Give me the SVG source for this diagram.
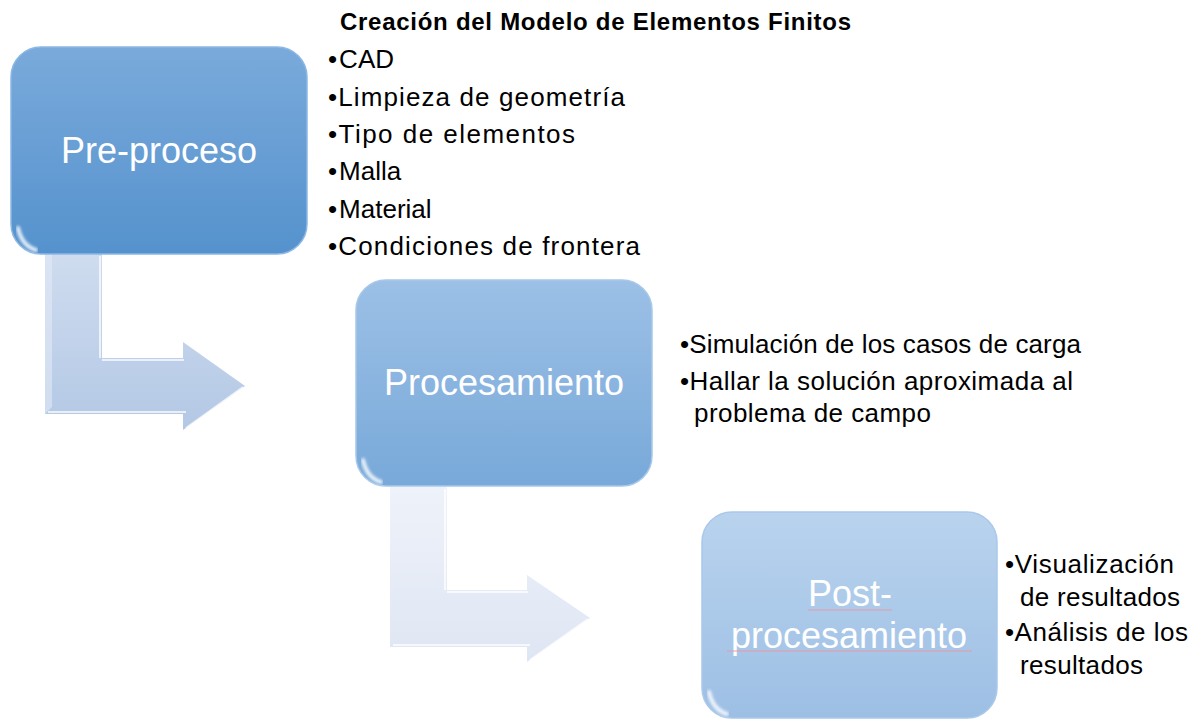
<svg xmlns="http://www.w3.org/2000/svg" width="1194" height="719" viewBox="0 0 1194 719">
<defs>
<linearGradient id="g1" x1="0" y1="0" x2="0" y2="1"><stop offset="0" stop-color="#7aaadb"/><stop offset="1" stop-color="#5592cd"/></linearGradient>
<linearGradient id="g2" x1="0" y1="0" x2="0" y2="1"><stop offset="0" stop-color="#9cc0e6"/><stop offset="1" stop-color="#78a9d9"/></linearGradient>
<linearGradient id="g3" x1="0" y1="0" x2="0" y2="1"><stop offset="0" stop-color="#b9d3ee"/><stop offset="1" stop-color="#9dbfe4"/></linearGradient>
<linearGradient id="a1" x1="0" y1="0" x2="0" y2="1"><stop offset="0" stop-color="#cfdcef"/><stop offset="1" stop-color="#b3c8e5"/></linearGradient>
<linearGradient id="a2" x1="0" y1="0" x2="0" y2="1"><stop offset="0" stop-color="#eef2fa"/><stop offset="1" stop-color="#dfe6f3"/></linearGradient>
<filter id="blur" x="-10%" y="-50%" width="120%" height="200%"><feGaussianBlur stdDeviation="1.5"/></filter>
</defs>
<style>
.t{font-family:"Liberation Sans",Arial,sans-serif;fill:#000;font-size:26px}
.b{font-weight:bold;font-size:24px}
.w{font-family:"Liberation Sans",Arial,sans-serif;fill:#fff;font-size:36px;text-anchor:middle}
.hl{fill:none;stroke:#fff;stroke-width:4;stroke-linecap:round;filter:url(#blur);opacity:.85}
.bev{fill:none;stroke:#fff;stroke-width:2;opacity:.7}
.sq{fill:none;stroke:#e79aa5;stroke-width:1}
</style>
<g id="connectors">
<g id="arrow1">
<path d="M45,254 L102,254 L102,358 L183,358 L183,342 L245,386 L183,430 L183,414 L45,414 Z" fill="url(#a1)"/>
<path class="bev" d="M48,412 L186,412 M186,428 L243,387 M100,256 L100,358 M102,360 L184,360"/>
<path d="M45,254 L45,414 L52,407 L52,254 Z" fill="#e2eaf6" opacity=".6"/>
</g>
<g id="arrow2">
<path d="M390,487 L447,487 L447,590 L527,590 L527,575 L590,618 L527,662 L527,647 L390,647 Z" fill="url(#a2)"/>
<path class="bev" d="M393,645 L530,645 M530,660 L588,619 M445,489 L445,590 M447,592 L528,592"/>
</g>
</g>
<g id="pre">
<rect x="11" y="47" width="296" height="207" rx="30" fill="url(#g1)" stroke="#8cb8e4" stroke-width="1.5"/>
<path class="hl" d="M42,55 L278,55"/>
<path class="hl" d="M18,228 Q22,246 36,250" stroke-width="5"/>
<text class="w" x="159" y="163">Pre-proceso</text>
</g>
<g id="proc">
<rect x="356" y="280" width="296" height="206" rx="30" fill="url(#g2)" stroke="#a6c8ea" stroke-width="1.5"/>
<path class="hl" d="M387,288 L622,288"/>
<path class="hl" d="M363,460 Q367,478 381,482" stroke-width="5"/>
<text class="w" x="504" y="395">Procesamiento</text>
</g>
<g id="post">
<rect x="702" y="512" width="295" height="206" rx="30" fill="url(#g3)" stroke="#a9c8ea" stroke-width="1.5"/>
<path class="hl" d="M733,520 L967,520"/>
<path class="hl" d="M709,692 Q713,710 727,714" stroke-width="5"/>
<text class="w" x="850" y="606">Post-</text>
<text class="w" x="849" y="648">procesamiento</text>
<path class="sq" d="M808,610 L892,610 M727,651 L972,651"/>
</g>
<g id="text-pre">
<text class="t b" x="340" y="30" textLength="511" lengthAdjust="spacing">Creación del Modelo de Elementos Finitos</text>
<text class="t" x="328" y="68">•<tspan dx="2">CAD</tspan></text>
<text class="t" x="328" y="106" textLength="297" lengthAdjust="spacing">•Limpieza de geometría</text>
<text class="t" x="328" y="143" textLength="247" lengthAdjust="spacing">•Tipo de elementos</text>
<text class="t" x="328" y="180">•<tspan dx="2">Malla</tspan></text>
<text class="t" x="328" y="218">•<tspan dx="2">Material</tspan></text>
<text class="t" x="328" y="255" textLength="312" lengthAdjust="spacing">•Condiciones de frontera</text>
</g>
<g id="text-proc">
<text class="t" x="680" y="353" textLength="401" lengthAdjust="spacing">•Simulación de los casos de carga</text>
<text class="t" x="680" y="390" textLength="393" lengthAdjust="spacing">•Hallar la solución aproximada al</text>
<text class="t" x="694" y="422" textLength="237" lengthAdjust="spacing">problema de campo</text>
</g>
<g id="text-post">
<text class="t" x="1005" y="573" textLength="169" lengthAdjust="spacing">•Visualización</text>
<text class="t" x="1020" y="606" textLength="160" lengthAdjust="spacing">de resultados</text>
<text class="t" x="1005" y="641" textLength="183" lengthAdjust="spacing">•Análisis de los</text>
<text class="t" x="1020" y="674" textLength="123" lengthAdjust="spacing">resultados</text>
</g>
</svg>
